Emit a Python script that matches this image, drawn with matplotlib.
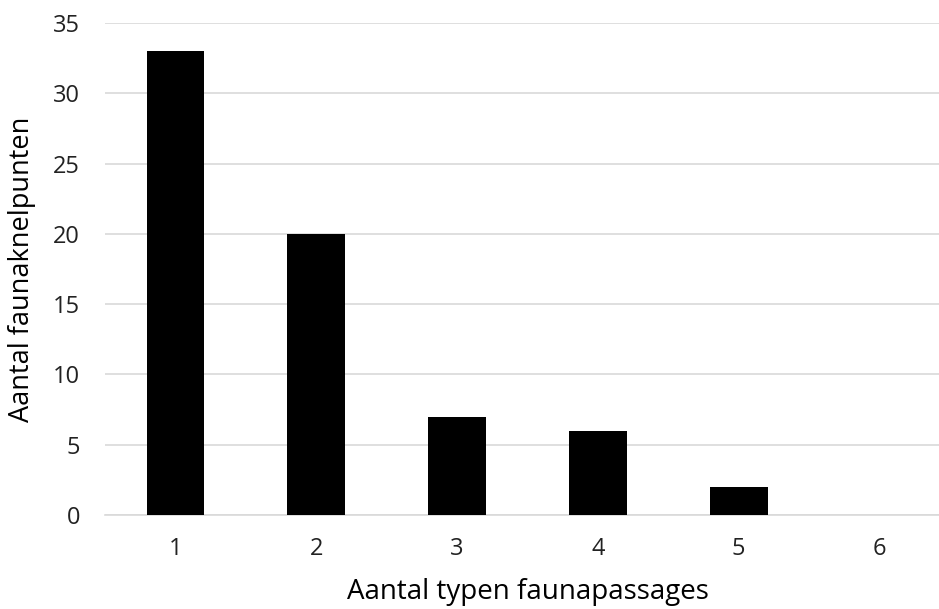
import matplotlib.pyplot as plt

categories = ["1", "2", "3", "4", "5", "6"]
counts = [33, 20, 7, 6, 2, 0]
y_ticks = [0, 5, 10, 15, 20, 25, 30, 35]

plt.rcParams['font.family'] = ['Open Sans', 'DejaVu Sans']

fig = plt.figure(figsize=(9.39, 6.09), dpi=100)
# plot area runs a little past the right edge of the figure
ax = fig.add_axes([105 / 939, 94 / 609, 845 / 939, 492 / 609])

x = range(1, len(categories) + 1)
ax.bar(x, counts, width=0.41, color="black", zorder=3)

ax.set_xlim(0.5, len(categories) + 0.5)
ax.set_ylim(0, 35)
ax.set_xticks(list(x))
ax.set_xticklabels(categories)
ax.set_yticks(y_ticks)

ax.grid(axis="y", color="#d9d9d9", linewidth=1.2, zorder=0)
for side in ["top", "right", "left"]:
    ax.spines[side].set_visible(False)
ax.spines["bottom"].set_color("#d9d9d9")
ax.spines["bottom"].set_linewidth(1.2)
ax.tick_params(axis="both", length=0, labelsize=17, colors="#222222")
ax.tick_params(axis="x", pad=16)
ax.tick_params(axis="y", pad=18)

ax.set_xlabel("Aantal typen faunapassages", fontsize=20, labelpad=12)
ax.set_ylabel("Aantal faunaknelpunten", fontsize=19.5, labelpad=12)

fig.savefig("out.png", dpi=100)
